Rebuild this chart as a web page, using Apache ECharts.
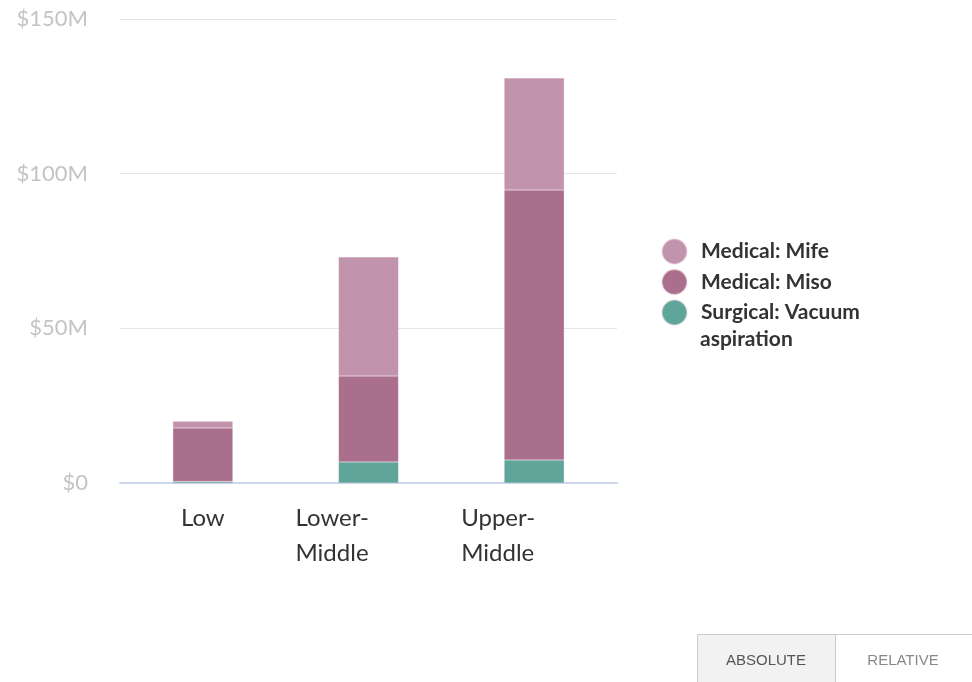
<!DOCTYPE html>
<html>
<head>
<meta charset="utf-8">
<script src="https://cdn.jsdelivr.net/npm/echarts@6/dist/echarts.min.js"></script>
<style>
html,body{margin:0;padding:0;background:#fff;}
#chart{width:972px;height:682px;}
</style>
</head>
<body>
<div id="chart"></div>
<script>
// Data (US$ millions)
const categories = ['Low', 'Lower-Middle', 'Upper-Middle'];
const surgicalVacuum = [0.5, 6.8, 7.4];
const medicalMiso = [17.3, 27.8, 87.3];
const medicalMife = [2.2, 38.5, 36.2];
const yTicks = [0, 50, 100, 150];
const seriesNames = ['Medical: Mife', 'Medical: Miso', 'Surgical: Vacuum aspiration'];
const colors = {'Medical: Mife': '#c193ad', 'Medical: Miso': '#ab6f8e', 'Surgical: Vacuum aspiration': '#5fa59a'};

const chart = echarts.init(document.getElementById('chart'));
const font = 'Lato, "Noto Sans", sans-serif';

function barSeries(name, data) {
  return {
    name: name,
    type: 'bar',
    stack: 'total',
    barWidth: 60,
    data: data,
    itemStyle: {color: colors[name], borderColor: 'rgba(240,220,232,0.35)', borderWidth: 0.5},
    emphasis: {disabled: true}
  };
}

chart.setOption({
  animation: false,
  backgroundColor: '#fff',
  grid: {left: 120, right: 355, top: 19, bottom: 199, containLabel: false},
  xAxis: {
    type: 'category',
    data: categories,
    axisLine: {lineStyle: {color: '#ccd6eb', width: 2}},
    axisTick: {show: false},
    axisLabel: {
      color: '#333',
      fontFamily: font,
      fontSize: 24,
      lineHeight: 35,
      margin: 18,
      interval: 0,
      formatter: function (v) {
        if (v.indexOf('-') >= 0) {
          const parts = v.split('-');
          return '{w|' + parts[0] + '-}\n{w|' + parts[1] + '}';
        }
        return v;
      },
      rich: {w: {width: 146, align: 'left', fontSize: 24, lineHeight: 35, color: '#333', fontFamily: font}}
    }
  },
  yAxis: {
    type: 'value',
    min: 0,
    max: yTicks[yTicks.length - 1],
    interval: 50,
    axisLine: {show: false},
    axisTick: {show: false},
    splitLine: {lineStyle: {color: '#e6e6e6', width: 1}},
    axisLabel: {
      color: '#c4c4c4',
      fontFamily: font,
      fontSize: 22,
      margin: 32,
      formatter: function (v) { return v === 0 ? '$0' : '$' + v + 'M'; }
    }
  },
  legend: {
    orient: 'vertical',
    left: 656,
    top: 233,
    padding: 5,
    itemWidth: 25,
    itemHeight: 25,
    itemGap: 3.5,
    icon: 'circle',
    selectedMode: false,
    data: seriesNames,
    formatter: function (n) { return n.indexOf('Surgical') === 0 ? 'Surgical: Vacuum' : n; },
    textStyle: {color: '#333', fontWeight: 'bold', fontFamily: font, fontSize: 21, lineHeight: 25, padding: [0, 0, 0, 9]}
  },
  graphic: [
    {type: 'text', left: 700, top: 329, style: {text: 'aspiration', fill: '#333', font: 'bold 21px ' + font}},
    {type: 'rect', shape: {x: 697.5, y: 634.5, width: 138, height: 60}, style: {fill: '#f2f2f2', stroke: '#cccccc', lineWidth: 1}},
    {type: 'rect', shape: {x: 835.5, y: 634.5, width: 150, height: 60}, style: {fill: '#ffffff', stroke: '#cccccc', lineWidth: 1}},
    {type: 'text', x: 766, y: 661, style: {text: 'ABSOLUTE', fill: '#555', font: '15px "Liberation Sans", Arial, sans-serif', align: 'center', verticalAlign: 'middle'}},
    {type: 'text', x: 903, y: 661, style: {text: 'RELATIVE', fill: '#888', font: '15px "Liberation Sans", Arial, sans-serif', align: 'center', verticalAlign: 'middle'}}
  ],
  series: [
    barSeries('Surgical: Vacuum aspiration', surgicalVacuum),
    barSeries('Medical: Miso', medicalMiso),
    barSeries('Medical: Mife', medicalMife)
  ]
});
</script>
</body>
</html>
